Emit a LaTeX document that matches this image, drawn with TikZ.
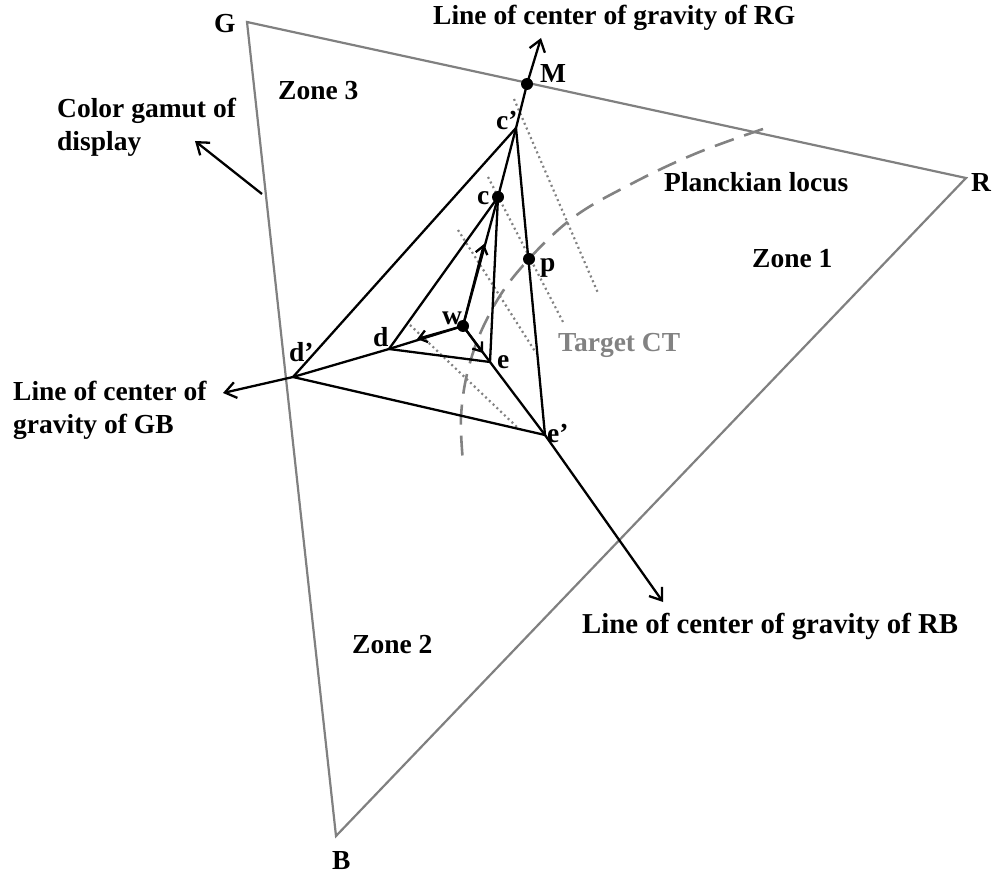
\documentclass[tikz,border=0pt]{standalone}
\usepackage{fontspec}
\setmainfont{Liberation Serif}
\usetikzlibrary{arrows.meta}
\definecolor{gamutgray}{RGB}{128,128,128}
\definecolor{lgray}{RGB}{130,130,130}
\begin{document}
\begin{tikzpicture}[x=1pt,y=-1pt,
  gamut/.style={draw=gamutgray, line width=2.2pt},
  mainln/.style={draw=black, line width=2.3pt, line join=round},
  endarr/.style={-{Straight Barb[length=11pt,width=16pt,line width=2.3pt]}},
  midarr/.style={-{Straight Barb[length=8pt,width=12pt,line width=2.3pt]}},
  dotln/.style={draw=lgray, line width=2.2pt, dash pattern=on 2pt off 3.2pt},
  planck/.style={draw=lgray, line width=2.6pt, dash pattern=on 20pt off 11pt},
  blackdot/.style={circle, fill=black, inner sep=0pt, minimum size=12pt},
  lbl/.style={font=\fontsize{27.5}{33}\selectfont\bfseries, inner sep=0pt, anchor=base west},
]
\useasboundingbox (0,0) rectangle (999,877);

% gamut vertices
\coordinate (G) at (247,22);
\coordinate (R) at (966,178);
\coordinate (B) at (336,836);
% construction points
\coordinate (M) at (527,84);
\coordinate (cp) at (516,128);
\coordinate (c) at (498,197);
\coordinate (p) at (529,259);
\coordinate (w) at (463,326);
\coordinate (d) at (389,349);
\coordinate (e) at (490,362);
\coordinate (dp) at (293,377);
\coordinate (ep) at (545,435);
% arrow ends
\coordinate (tRG) at (541,38);
\coordinate (tGB) at (223,393);
\coordinate (tRB) at (663,602);
\coordinate (ac) at (484,244);
\coordinate (ad) at (417,339);
\coordinate (ae) at (483,353);
\coordinate (gs) at (262,194);
\coordinate (gt) at (195,141);

% gamut triangle
\draw[gamut, line join=miter] (G) -- (R) -- (B) -- cycle;

% isotemperature lines
\draw[dotln] (514,99) -- (598,293);
\draw[dotln] (488,177) -- (563,322);
\draw[dotln] (458,230) -- (536,353);
\draw[dotln] (410,325) -- (518,428);

% Planckian locus
\draw[planck] plot[smooth, tension=0.6] coordinates
  {(763,129) (697,153) (633,183) (570,220) (515,275) (485,323) (468,370) (461,417) (463,462)};

% triangles
\draw[mainln] (cp) -- (dp) -- (ep) -- cycle;
\draw[mainln] (c) -- (d) -- (e) -- cycle;

% lines of center of gravity
\draw[mainln, endarr] (w) -- (c) -- (cp) -- (M) -- (tRG);
\draw[mainln, endarr] (w) -- (d) -- (dp) -- (tGB);
\draw[mainln, endarr] (w) -- (e) -- (ep) -- (tRB);
\draw[mainln, midarr] (w) -- (ac);
\draw[mainln, midarr] (w) -- (ad);
\draw[mainln, midarr] (w) -- (ae);

% gamut pointer
\draw[mainln, endarr] (gs) -- (gt);

% dots
\node[blackdot] (Mdot) at (M) {};
\node[blackdot] (cdot) at (c) {};
\node[blackdot] (pdot) at (p) {};
\node[blackdot] (wdot) at (w) {};

% vertex labels
\node[lbl] (Gl) at (214,33) {G};
\node[lbl] (Rl) at (971,192) {R};
\node[lbl] (Bl) at (332,869) {B};
\node[lbl] (Ml) at (540,83) {M};
\node[lbl] (cpl) at (496,130) {c’};
\node[lbl] (cl) at (477,205) {c};
\node[lbl] (pl) at (540,272) {p};
\node[lbl] (wl) at (442,325) {w};
\node[lbl] (dl) at (373,347) {d};
\node[lbl] (el) at (497,368) {e};
\node[lbl] (dpl) at (289,362) {d’};
\node[lbl] (epl) at (547,442) {e’};

% zone and other labels
\node[lbl] (z3) at (278,100) {Zone 3};
\node[lbl] (z1) at (752,268) {Zone 1};
\node[lbl] (z2) at (352,653) {Zone 2};
\node[lbl] (pll) at (664,192) {Planckian locus};
\node[lbl, text=lgray] (tct) at (558,352) {Target CT};
\node[lbl] (rg) at (433,25) {Line of center of gravity of RG};
\node[lbl, font=\fontsize{28.8}{33}\selectfont\bfseries] (rb) at (582,633) {Line of center of gravity of RB};
\node[lbl, anchor=north west, align=left] (gb) at (13,381) {Line of center of\\gravity of GB};
\node[lbl, anchor=north west, align=left] (cg) at (57,98) {Color gamut of\\display};
\end{tikzpicture}
\end{document}
